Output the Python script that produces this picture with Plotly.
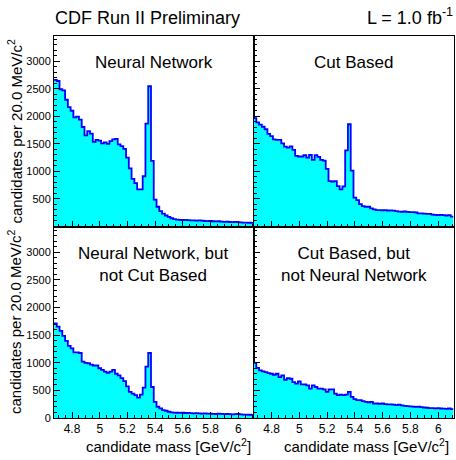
import numpy as np
import plotly.graph_objects as go

# ---------------- data ----------------
BIN_LOW = 4.67
BIN_WIDTH = 0.02
N_BINS = 72

neural_network = [2660, 2640, 2490, 2470, 2300, 2165, 2100, 1980, 1995, 1940,
                  1805, 1655, 1730, 1685, 1535, 1570, 1560, 1510, 1525, 1500,
                  1550, 1580, 1590, 1490, 1460, 1410, 1250, 1055, 865, 787,
                  674, 674, 912, 1866, 2545, 1192, 489, 358, 280, 235,
                  200, 175, 150, 135, 125, 120, 118, 120, 115, 112,
                  110, 108, 110, 105, 100, 98, 100, 95, 92, 95,
                  90, 85, 88, 82, 80, 85, 78, 75, 72, 70,
                  68, 65]

cut_based = [1968, 1890, 1850, 1810, 1765, 1680, 1640, 1580, 1570, 1570,
             1510, 1450, 1430, 1455, 1390, 1282, 1270, 1270, 1295, 1250,
             1300, 1210, 1295, 1265, 1210, 1195, 1044, 823, 817, 823,
             733, 674, 727, 1383, 1855, 1014, 525, 477, 405, 370,
             358, 358, 328, 310, 298, 298, 295, 298, 290, 292,
             288, 280, 270, 268, 272, 265, 260, 262, 255, 240,
             238, 235, 230, 228, 215, 210, 208, 212, 205, 200,
             205, 180]

nn_not_cut = [1713, 1654, 1575, 1485, 1395, 1305, 1258, 1188, 1188, 1176,
              1020, 996, 990, 966, 950, 950, 900, 870, 840, 817,
              840, 870, 800, 770, 722, 668, 573, 472, 442, 412,
              370, 424, 549, 931, 1176, 561, 292, 203, 173, 143,
              131, 113, 101, 98, 95, 92, 95, 90, 92, 88,
              85, 88, 85, 80, 82, 78, 80, 75, 72, 78,
              74, 70, 72, 68, 65, 70, 72, 65, 60, 62,
              58, 55]

cut_not_nn = [996, 907, 860, 842, 830, 812, 800, 782, 800, 740,
              770, 692, 722, 710, 650, 620, 662, 609, 609, 591,
              531, 591, 561, 531, 531, 519, 472, 519, 519, 442,
              412, 424, 412, 424, 472, 382, 340, 322, 322, 304,
              292, 285, 292, 262, 262, 255, 262, 250, 245, 248,
              240, 233, 240, 228, 220, 215, 210, 205, 200, 203,
              195, 190, 185, 180, 178, 175, 178, 172, 170, 165,
              172, 160]

panel_titles = ["Neural Network", "Cut Based",
                "Neural Network, but<br>not Cut Based",
                "Cut Based, but<br>not Neural Network"]

x_tick_vals = [4.8, 5.0, 5.2, 5.4, 5.6, 5.8, 6.0]
x_tick_text = ["4.8", "5", "5.2", "5.4", "5.6", "5.8", "6"]
y_tick_vals_top = [500, 1000, 1500, 2000, 2500, 3000]
y_tick_vals_bottom = [0, 500, 1000, 1500, 2000, 2500, 3000]

# ---------------- layout geometry ----------------
W, H = 456, 460
FONT = "Liberation Sans, Arial, Helvetica, sans-serif"

def px_x(p):
    return p / W

def px_y(p):
    return (H - p) / H

xl = [px_x(54), px_x(253.5)]
xr = [px_x(253.5), px_x(453.5)]
yt = [px_y(229.5), px_y(36)]
yb = [px_y(423.5), px_y(229.5)]

edges = np.round(BIN_LOW + BIN_WIDTH * np.arange(N_BINS + 1), 4)

fig = go.Figure()

series = [neural_network, cut_based, nn_not_cut, cut_not_nn]
for k, vals in enumerate(series):
    ax = "" if k == 0 else str(k + 1)
    fig.add_trace(go.Scatter(
        x=edges, y=list(vals) + [vals[-1]],
        mode="lines", line_shape="hv",
        line=dict(color="#0000ff", width=1.8),
        fill="tozeroy", fillcolor="#00ffff",
        xaxis="x" + ax, yaxis="y" + ax,
        showlegend=False, hoverinfo="skip"))

X_RANGE = [4.67, 6.11]
Y_RANGE = [0, 3465]

def xaxis(domain, anchor, labels):
    return dict(domain=domain, anchor=anchor, range=X_RANGE,
                showline=True, mirror=True, linecolor="black", linewidth=1,
                ticks="inside", ticklen=6, tickcolor="black", tickwidth=1,
                tickmode="array", tickvals=x_tick_vals, ticktext=x_tick_text,
                showticklabels=labels, showgrid=False, zeroline=False,
                tickfont=dict(family=FONT, size=12, color="black"),
                minor=dict(ticks="inside", ticklen=3, tickcolor="black",
                           tickmode="linear", tick0=4.8, dtick=0.05,
                           showgrid=False))

def yaxis(domain, anchor, labels, tickvals):
    return dict(domain=domain, anchor=anchor, range=Y_RANGE,
                showline=True, mirror=True, linecolor="black", linewidth=1,
                ticks="inside", ticklen=6, tickcolor="black", tickwidth=1,
                tickmode="array", tickvals=tickvals,
                showticklabels=labels, showgrid=False, zeroline=False,
                tickfont=dict(family=FONT, size=11, color="black"),
                minor=dict(ticks="inside", ticklen=3, tickcolor="black",
                           tickmode="linear", tick0=0, dtick=100,
                           showgrid=False))

fig.update_layout(
    width=W, height=H,
    margin=dict(l=0, r=0, t=0, b=0),
    paper_bgcolor="white", plot_bgcolor="white",
    font=dict(family=FONT, color="black", size=12),
    xaxis=xaxis(xl, "y", False),
    yaxis=yaxis(yt, "x", True, y_tick_vals_top),
    xaxis2=xaxis(xr, "y2", False),
    yaxis2=yaxis(yt, "x2", False, y_tick_vals_top),
    xaxis3=xaxis(xl, "y3", True),
    yaxis3=yaxis(yb, "x3", True, y_tick_vals_bottom),
    xaxis4=xaxis(xr, "y4", True),
    yaxis4=yaxis(yb, "x4", False, y_tick_vals_bottom),
)

ann = []
# panel titles
centers = [(153.5, 63), (353.5, 63), (153.5, 268), (353.5, 268)]
for t, (cx, cy) in zip(panel_titles, centers):
    ann.append(dict(text=t, x=px_x(cx), y=px_y(cy), xref="paper", yref="paper",
                    showarrow=False, xanchor="center", yanchor="middle",
                    font=dict(family=FONT, size=17, color="black")))

# header
ann.append(dict(text="CDF Run II Preliminary", x=px_x(53), y=px_y(18),
                xref="paper", yref="paper", showarrow=False,
                xanchor="left", yanchor="middle",
                font=dict(family=FONT, size=18, color="black")))
ann.append(dict(text="L = 1.0 fb<sup>-1</sup>", x=px_x(455), y=px_y(17),
                xref="paper", yref="paper", showarrow=False,
                xanchor="right", yanchor="middle",
                font=dict(family=FONT, size=18, color="black")))

# axis titles
ytitle = "candidates per 20.0 MeV/c<sup>2</sup>"
for ytop in (38, 231):
    ann.append(dict(text=ytitle, x=px_x(15), y=px_y(ytop), xref="paper",
                    yref="paper", showarrow=False, textangle=-90,
                    xanchor="center", yanchor="top",
                    font=dict(family=FONT, size=15, color="black")))
xtitle = "candidate mass [GeV/c<sup>2</sup>]"
for xr_end in (253, 451):
    ann.append(dict(text=xtitle, x=px_x(xr_end), y=px_y(451), xref="paper",
                    yref="paper", showarrow=False,
                    xanchor="right", yanchor="middle",
                    font=dict(family=FONT, size=15, color="black")))

fig.update_layout(annotations=ann)

fig.write_html("out.html")
